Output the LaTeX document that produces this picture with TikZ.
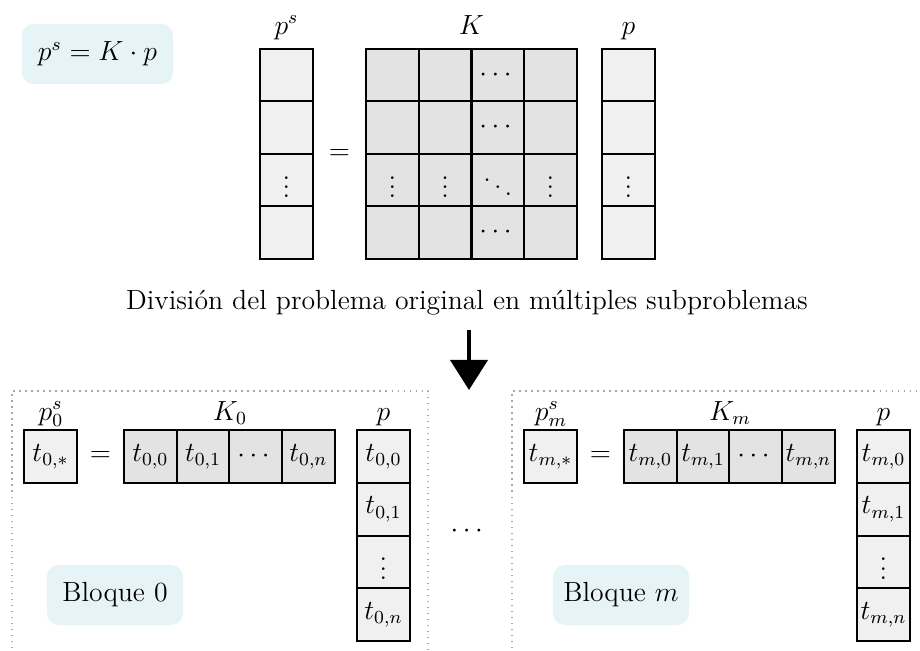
\documentclass[tikz,border=0pt]{standalone}
\usepackage{amsmath}
\usepackage{fontspec}
\usetikzlibrary{arrows.meta, positioning}
\definecolor{vecgray}{RGB}{240,240,240}
\definecolor{matgray}{RGB}{227,227,227}
\definecolor{tagblue}{RGB}{230,244,248}
\tikzset{
    vcell/.style={draw, rectangle, minimum width=22.8pt, minimum height=22.8pt, inner sep=0pt, fill=vecgray, line width=0.9pt, font=\large},
    kcell/.style={vcell, fill=matgray},
    tagbox/.style={rectangle, rounded corners=5pt, fill=tagblue, minimum width=58.9pt, minimum height=26pt, font=\large},
    lbl/.style={anchor=base, font=\large},
    blockframe/.style={draw=black!35, dotted, line width=0.6pt},
    bigarrow/.style={-{Triangle[width=16pt,length=13pt]}, line width=1.8pt}
}
\begin{document}
\begin{tikzpicture}[x=0.433pt, y=-0.433pt]

    \useasboundingbox (0,0) rectangle (920,650);

    % -----------------------------------------------------------------
    % problema original
    % -----------------------------------------------------------------
    \node[tagbox, minimum width=65.4pt] (formula) at (97.5,54) {$p^s = K\cdot p$};

    \foreach \t [count=\r from 0] in {{},{},{$\vdots$},{}}
        \node[vcell] (ps\r) at (286.5,{75.25+52.5*\r}) {\t};

    \node[font=\large] (eqtop) at (339.5,154) {$=$};

    \foreach \t [count=\c from 0] in {{},{},{$\cdots$},{}}
        \node[kcell] (ka\c) at ({392.4+52.7*\c},75.25) {\t};
    \foreach \t [count=\c from 0] in {{},{},{$\cdots$},{}}
        \node[kcell] (kb\c) at ({392.4+52.7*\c},127.75) {\t};
    \foreach \t [count=\c from 0] in {{$\vdots$},{$\vdots$},{$\ddots$},{$\vdots$}}
        \node[kcell] (kc\c) at ({392.4+52.7*\c},180.25) {\t};
    \foreach \t [count=\c from 0] in {{},{},{$\cdots$},{}}
        \node[kcell] (kd\c) at ({392.4+52.7*\c},232.75) {\t};

    \foreach \t [count=\r from 0] in {{},{},{$\vdots$},{}}
        \node[vcell] (p\r) at (628.5,{75.25+52.5*\r}) {\t};

    \node[lbl] (lps) at (286.5,34) {$p^s$};
    \node[lbl] (lk) at (471.5,34) {$K$};
    \node[lbl] (lp) at (628.5,34) {$p$};

    % -----------------------------------------------------------------
    % division
    % -----------------------------------------------------------------
    \node[anchor=base, font=\large] (split) at (467,309) {División del problema original en múltiples subproblemas};

    \coordinate (atop) at (469,330);
    \coordinate (abot) at (469,390);
    \draw[bigarrow] (atop) -- (abot);

    \node[font=\large] (middots) at (469,531) {$\cdots$};

    % -----------------------------------------------------------------
    % bloques
    % -----------------------------------------------------------------
    \foreach \b/\dx/\bx in {0/0/115, m/500/621} {
        \draw[blockframe] ({12+\dx},660) -- ({12+\dx},391) -- ({428+\dx},391) -- ({428+\dx},660);

        \node[vcell] (ts\b) at ({50.5+\dx},456.5) {$t_{\b,*}$};
        \node[font=\large] (eq\b) at ({100.5+\dx},456.5) {$=$};

        \foreach \t [count=\c from 0] in {{$t_{\b,0}$},{$t_{\b,1}$},{$\cdots$},{$t_{\b,n}$}}
            \node[kcell] (k\b\c) at ({150.35+52.7*\c+\dx},456.5) {\t};

        \foreach \t [count=\r from 0] in {{$t_{\b,0}$},{$t_{\b,1}$},{$\vdots$},{$t_{\b,n}$}}
            \node[vcell] (p\b\r) at ({383.5+\dx},{456.5+52.7*\r}) {\t};

        \node[lbl] (lps\b) at ({51+\dx},420) {$p^s_\b$};
        \node[lbl] (lk\b) at ({230+\dx},420) {$K_\b$};
        \node[lbl] (lp\b) at ({383.5+\dx},420) {$p$};

        \node[tagbox] (blq\b) at (\bx,595) {Bloque $\b$};
    }

\end{tikzpicture}
\end{document}
